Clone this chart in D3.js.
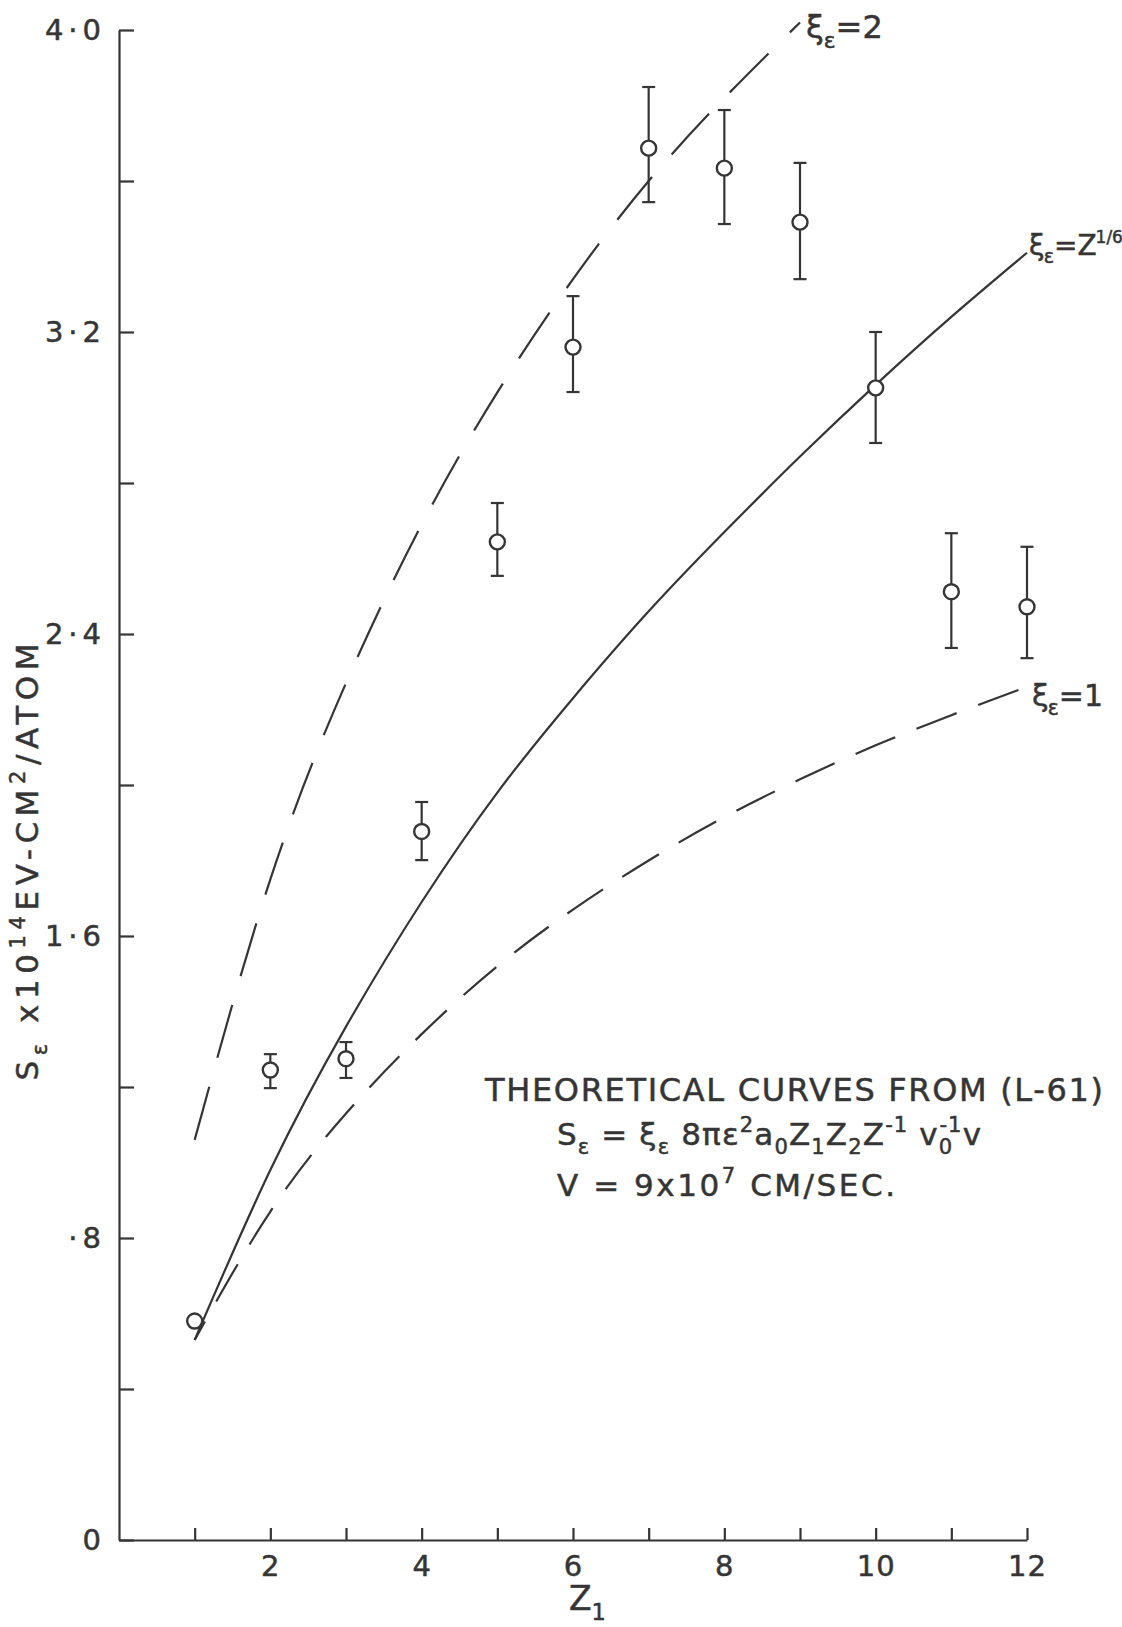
<!DOCTYPE html>
<html>
<head>
<meta charset="utf-8">
<script src="https://cdn.jsdelivr.net/npm/d3@7"></script>
<style>
  html, body { margin: 0; padding: 0; background: #ffffff; }
  svg { display: block; }
  text { font-family: "DejaVu Sans", sans-serif; fill: #353535; stroke: #353535; stroke-width: 0.5; }
  .axis path, .axis line { stroke: #353535; stroke-width: 2.2; }
  .axis text { font-size: 29px; letter-spacing: 5px; }
  .x-axis text { letter-spacing: 1px; }
  .curve { fill: none; stroke: #353535; stroke-width: 2.2; }
  .err { stroke: #353535; stroke-width: 2.2; }
  .pt { fill: #ffffff; stroke: #353535; stroke-width: 2.4; }
</style>
</head>
<body>
<div id="chart"></div>
<script>
// Mesures (Z1, S_e x 1e14 eV-cm2/atom) et barres d'erreur
const Z_VALUES  = [1, 2, 3, 4, 5, 6, 7, 8, 9, 10, 11, 12];
const MEASURED  = [0.58, 1.245, 1.275, 1.877, 2.644, 3.16, 3.687, 3.634, 3.491, 3.052, 2.512, 2.472];
const ERR_LOW   = [0.58, 1.197, 1.224, 1.801, 2.554, 3.041, 3.544, 3.486, 3.340, 2.906, 2.363, 2.336];
const ERR_HIGH  = [0.58, 1.287, 1.319, 1.955, 2.747, 3.295, 3.849, 3.788, 3.648, 3.200, 2.667, 2.631];

// Courbes théoriques
const CURVE_Z   = [1, 2, 3, 4, 5, 6, 7, 8, 9, 10, 11, 12];
const XI_ONE    = [0.53, 0.87, 1.13, 1.34, 1.52, 1.67, 1.80, 1.915, 2.015, 2.105, 2.185, 2.26];
const XI_Z16    = [0.53, 0.98, 1.36, 1.69, 1.98, 2.23, 2.46, 2.67, 2.87, 3.06, 3.24, 3.41];
const XI_TWO_Z  = [1, 2, 3, 4, 5, 6, 7, 8, 9];
const XI_TWO    = [1.06, 1.75, 2.27, 2.69, 3.04, 3.34, 3.60, 3.82, 4.02];

// Graduations
const Y_TICKS   = [0, 0.4, 0.8, 1.2, 1.6, 2.0, 2.4, 2.8, 3.2, 3.6, 4.0];
const Y_LABELS  = new Map([[0, "0"], [0.8, "·8"], [1.6, "1·6"], [2.4, "2·4"], [3.2, "3·2"], [4.0, "4·0"]]);
const X_TICKS   = [1, 2, 3, 4, 5, 6, 7, 8, 9, 10, 11, 12];

const width = 1122, height = 1627;

const svg = d3.select("#chart").append("svg")
  .attr("width", width).attr("height", height)
  .attr("viewBox", `0 0 ${width} ${height}`);

const x = d3.scaleLinear().domain([0, 12]).range([119, 1027]);
const y = d3.scaleLinear().domain([0, 4]).range([1540, 30]);

// Axes
svg.append("g")
  .attr("class", "axis y-axis")
  .attr("transform", `translate(${x(0)},0)`)
  .call(d3.axisLeft(y).tickValues(Y_TICKS).tickSizeInner(-15).tickSizeOuter(0).tickPadding(13)
    .tickFormat(d => Y_LABELS.get(Math.round(d * 10) / 10) || ""));

svg.append("g")
  .attr("class", "axis x-axis")
  .attr("transform", `translate(0,${y(0)})`)
  .call(d3.axisBottom(x).tickValues(X_TICKS).tickSizeInner(-12).tickSizeOuter(0).tickPadding(15)
    .tickFormat(d => d % 2 === 0 ? d : ""));

// Texte riche (indices / exposants)
function richText(sel, parts, size) {
  let shift = 0;
  parts.forEach(([t, kind, dx, fs]) => {
    const target = kind === "sub" ? 0.3 * size : kind === "sup" ? -0.42 * size : 0;
    const ts = sel.append("tspan")
      .attr("dy", target - shift)
      .attr("font-size", fs || (kind ? size * 0.68 : size))
      .text(t);
    if (dx) ts.attr("dx", dx);
    shift = target;
  });
  return sel;
}

// Courbes
const line = d3.line().x(d => x(d[0])).y(d => y(d[1])).curve(d3.curveNatural);

svg.append("path").attr("class", "curve")
  .attr("d", line(XI_TWO_Z.map((z, i) => [z, XI_TWO[i]])))
  .attr("stroke-dasharray", "55 30");

svg.append("path").attr("class", "curve")
  .attr("d", line(CURVE_Z.map((z, i) => [z, XI_Z16[i]])));

svg.append("path").attr("class", "curve")
  .attr("d", line(CURVE_Z.map((z, i) => [z, XI_ONE[i]])))
  .attr("stroke-dasharray", "43 23")
  .attr("stroke-dashoffset", 22);

// Barres d'erreur
const pts = Z_VALUES.map((z, i) => ({ z, v: MEASURED[i], lo: ERR_LOW[i], hi: ERR_HIGH[i] }));
const withErr = pts.filter(d => d.hi > d.lo);
const eg = svg.append("g");
eg.selectAll("line.bar").data(withErr).join("line")
  .attr("class", "err")
  .attr("x1", d => x(d.z)).attr("x2", d => x(d.z))
  .attr("y1", d => y(d.lo)).attr("y2", d => y(d.hi));
["lo", "hi"].forEach(k => {
  eg.selectAll(`line.cap-${k}`).data(withErr).join("line")
    .attr("class", `err cap-${k}`)
    .attr("x1", d => x(d.z) - 6.5).attr("x2", d => x(d.z) + 6.5)
    .attr("y1", d => y(d[k])).attr("y2", d => y(d[k]));
});
eg.selectAll("circle").data(pts).join("circle")
  .attr("class", "pt")
  .attr("cx", d => x(d.z)).attr("cy", d => y(d.v))
  .attr("r", 7.5);

// Étiquettes des courbes
const last = arr => arr[arr.length - 1];
richText(svg.append("text")
  .attr("x", x(last(XI_TWO_Z)) + 6).attr("y", y(last(XI_TWO)) + 16),
  [["ξ"], ["ε", "sub"], ["=2"]], 32);
richText(svg.append("text")
  .attr("x", x(last(CURVE_Z)) + 2).attr("y", y(last(XI_Z16)) + 2),
  [["ξ"], ["ε", "sub", -1], ["=Z"], ["1/6", "sup", -1, 17]], 28);
richText(svg.append("text")
  .attr("x", x(last(CURVE_Z)) + 5).attr("y", y(last(XI_ONE)) + 19),
  [["ξ"], ["ε", "sub", -1], ["=1"]], 30);

// Titre d'axe Y
richText(svg.append("text")
  .attr("transform", "translate(38,862) rotate(-90)")
  .attr("text-anchor", "middle")
  .attr("textLength", 437).attr("lengthAdjust", "spacing"),
  [["S"], ["ε", "sub"], [" x10"], ["14", "sup"], ["EV-CM"], ["2", "sup"], ["/ATOM"]], 31);

// Titre d'axe X
richText(svg.append("text")
  .attr("x", x(6) - 4).attr("y", 1610),
  [["Z"], ["1", "sub"]], 33);

// Note théorique
svg.append("text")
  .attr("x", 485).attr("y", 1101)
  .attr("font-size", 32)
  .attr("textLength", 618).attr("lengthAdjust", "spacing")
  .text("THEORETICAL CURVES FROM (L-61)");

richText(svg.append("text").attr("x", 557).attr("y", 1145)
  .attr("textLength", 424).attr("lengthAdjust", "spacing"),
  [["S"], ["ε", "sub"], [" = ξ"], ["ε", "sub"], [" 8πε"], ["2", "sup"], ["a"], ["0", "sub"],
   ["Z"], ["1", "sub"], ["Z"], ["2", "sub"], ["Z"], ["-1", "sup"], [" v"], ["0", "sub"],
   ["-1", "sup", -14], ["v"]], 31);

richText(svg.append("text").attr("x", 557).attr("y", 1196)
  .attr("textLength", 338).attr("lengthAdjust", "spacing"),
  [["V = 9x10"], ["7", "sup"], [" CM/SEC."]], 31);
</script>
</body>
</html>
